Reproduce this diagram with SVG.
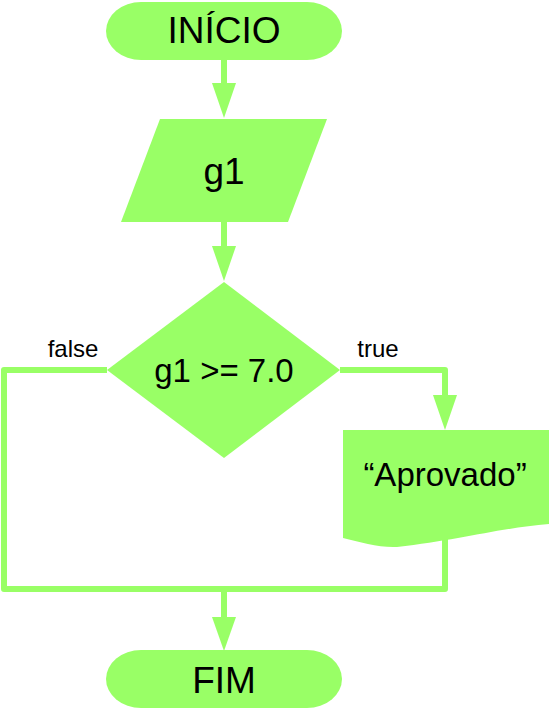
<svg xmlns="http://www.w3.org/2000/svg" width="549" height="710" viewBox="0 0 549 710">
<style>
.shape{fill:#99ff66;stroke:none}
.line{fill:none;stroke:#99ff66;stroke-width:6;stroke-linejoin:round;stroke-linecap:butt}
.head{fill:#99ff66}
text{font-family:"Liberation Sans",Arial,sans-serif;fill:#000;text-anchor:middle}
.big{font-size:37px}
.mid{font-size:33px}
.lbl{font-size:24px}
</style>
<rect width="549" height="710" fill="#fff"/>
<g id="connectors">
<path class="line" d="M224,60 V84"/>
<polygon class="head" points="212,83 236,83 224,118"/>
<path class="line" d="M224,222 V247"/>
<polygon class="head" points="212,246 236,246 224,281"/>
<path class="line" d="M340,370 H445 V396"/>
<polygon class="head" points="433,395 457,395 445,430"/>
<path class="line" d="M107,370 H4 V589 H445 V535"/>
<path class="line" d="M224,589 V618"/>
<polygon class="head" points="212,617 236,617 224,651"/>
<text class="lbl" x="73" y="357">false</text>
<text class="lbl" x="378" y="357">true</text>
</g>
<g id="inicio">
<rect class="shape" x="106" y="2" width="236" height="58" rx="35" ry="29"/>
<text class="big" x="224" y="43">INÍCIO</text>
</g>
<g id="input-g1">
<polygon class="shape" points="160,119 327,119 288,222 121,222"/>
<text class="big" x="224" y="184">g1</text>
</g>
<g id="decision">
<polygon class="shape" points="224,282 340,370 224,458 107,370"/>
<text class="mid" x="224" y="382">g1 &gt;= 7.0</text>
</g>
<g id="output-aprovado">
<path class="shape" d="M343,430 H549 V524 C500,528 460,540 397,547 C380,548 360,542 343,538 Z"/>
<text class="mid" x="445" y="486">“Aprovado”</text>
</g>
<g id="fim">
<rect class="shape" x="106" y="650" width="236" height="58" rx="35" ry="29"/>
<text class="big" x="224" y="693">FIM</text>
</g>
</svg>
